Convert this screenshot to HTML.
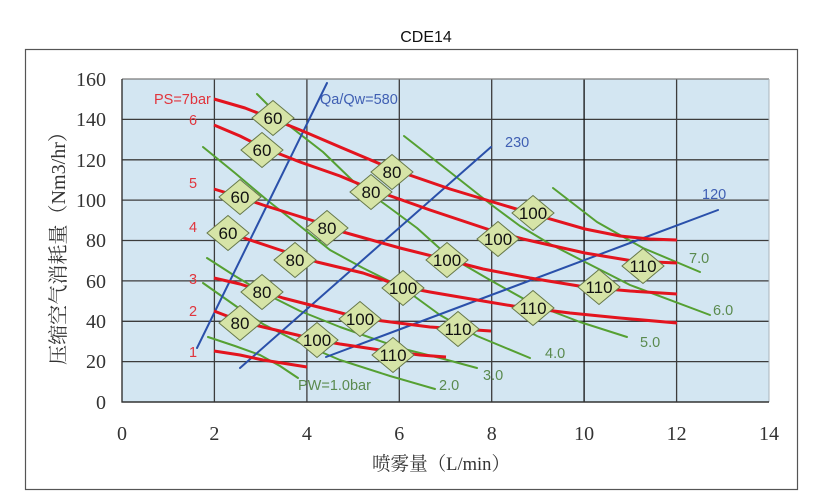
<!DOCTYPE html>
<html>
<head>
<meta charset="utf-8">
<style>
  html,body{margin:0;padding:0;background:#fff;}
  svg{display:block;}
  .tk{font-family:"Liberation Serif","Noto Serif CJK SC",serif;font-size:20px;fill:#333;}
  .dl{font-family:"Liberation Sans",sans-serif;font-size:17px;fill:#111;text-anchor:middle;}
  .rl{font-family:"Liberation Sans",sans-serif;font-size:14.5px;fill:#e0353d;}
  .gl{font-family:"Liberation Sans",sans-serif;font-size:14.5px;fill:#5a8a4e;}
  .bl{font-family:"Liberation Sans",sans-serif;font-size:14.5px;fill:#3f5fb3;}
</style>
</head>
<body>
<svg width="819" height="499" viewBox="0 0 819 499" xmlns="http://www.w3.org/2000/svg">
  <rect x="0" y="0" width="819" height="499" fill="#fff"/>
  <!-- Title -->
  <text x="426" y="42" font-family="Liberation Sans, sans-serif" font-size="16" fill="#111" text-anchor="middle">CDE14</text>
  <!-- Frame -->
  <rect x="25.5" y="49.5" width="772" height="440" fill="#fff" stroke="#555" stroke-width="1.2"/>
  <!-- Plot area -->
  <rect x="122" y="79" width="647" height="323" fill="#d3e6f2"/>
  <!-- Grid horizontal -->
  <g stroke="#3c3c3c" stroke-width="1.3">
    <line x1="122" y1="119.4" x2="769" y2="119.4"/>
    <line x1="122" y1="159.8" x2="769" y2="159.8"/>
    <line x1="122" y1="200.1" x2="769" y2="200.1"/>
    <line x1="122" y1="240.5" x2="769" y2="240.5"/>
    <line x1="122" y1="280.9" x2="769" y2="280.9"/>
    <line x1="122" y1="321.3" x2="769" y2="321.3"/>
    <line x1="122" y1="361.6" x2="769" y2="361.6"/>
    <line x1="214.4" y1="79" x2="214.4" y2="402"/>
    <line x1="306.9" y1="79" x2="306.9" y2="402"/>
    <line x1="399.3" y1="79" x2="399.3" y2="402"/>
    <line x1="491.7" y1="79" x2="491.7" y2="402"/>
    <line x1="584.1" y1="79" x2="584.1" y2="402" stroke="#111"/>
    <line x1="676.6" y1="79" x2="676.6" y2="402"/>
  </g>
  <line x1="122" y1="79" x2="769" y2="79" stroke="#7a7a7a" stroke-width="1.3"/>
  <line x1="769" y1="79" x2="769" y2="402" stroke="#a9b4bc" stroke-width="1"/>
  <line x1="122" y1="79" x2="122" y2="402.5" stroke="#333" stroke-width="1.4"/>
  <line x1="121.5" y1="402" x2="769" y2="402" stroke="#333" stroke-width="1.6"/>

  <!-- Green lines (PW) -->
  <g fill="none" stroke="#55a032" stroke-width="2" stroke-linejoin="round" stroke-linecap="round">
    <polyline points="208,337 235,346 260,355 280,366 298,378"/>
    <polyline points="203,283 240,309 263,324 300,343 340,360 390,376 435,389"/>
    <polyline points="207,258 235,276 262,292 300,311 340,327 400,348 440,358 477,368"/>
    <polyline points="203,147 235,173 267,200 300,226 330,250 363,268 403,288 440,315 477,336 530,358"/>
    <polyline points="257,94 287,124 323,152 353,181 390,208 417,228 447,255 490,280 533,304 580,322 627,337"/>
    <polyline points="404,136 450,172 493,206 520,226 550,244 585,262 630,285 710,315"/>
    <polyline points="553,188 597,222 643,248 700,272"/>
  </g>

  <!-- Blue lines (Qa/Qw) -->
  <g fill="none" stroke="#2a50aa" stroke-width="2" stroke-linecap="round">
    <line x1="197" y1="348" x2="327" y2="83"/>
    <line x1="240" y1="368" x2="491" y2="147"/>
    <line x1="326" y1="357" x2="718" y2="210"/>
  </g>

  <!-- Red lines (PS) -->
  <g fill="none" stroke="#e3141e" stroke-width="3" stroke-linejoin="round" stroke-linecap="butt">
    <polyline points="214,99 245,108 273,119 305,132 340,147 392,169 450,189 493,202 533,214 585,229 620,236 650,239 677,240"/>
    <polyline points="214,125 240,136 262,147 300,162 340,176 371,189 430,210 493,231 523,239 585,253 633,261 677,263"/>
    <polyline points="214,189 240,197 263,205 317,222 343,232 400,248 440,258 483,269 530,278 585,287 630,291 677,294"/>
    <polyline points="214,227 247,239 280,250 317,262 363,273 404,287 430,292 477,300 513,306 570,313 620,318 677,323"/>
    <polyline points="214,278 240,284 262,291 283,298 330,310 360,318 383,321 430,327 491,331"/>
    <polyline points="214,311 240,321 263,327 297,335 317,340 340,344 380,350 420,355 446,357"/>
    <polyline points="214,351 240,355 263,360 307,367"/>
  </g>

  <!-- Diamonds -->
  <g fill="#d6e4a7" stroke="#66784a" stroke-width="1">
    <polygon points="252,118 273,100.5 294,118 273,135.5"/>
    <polygon points="371,172 392,154.5 413,172 392,189.5"/>
    <polygon points="512,213 533,195.5 554,213 533,230.5"/>
    <polygon points="241,150 262,132.5 283,150 262,167.5"/>
    <polygon points="350,192 371,174.5 392,192 371,209.5"/>
    <polygon points="477,239 498,221.5 519,239 498,256.5"/>
    <polygon points="622,266 643,248.5 664,266 643,283.5"/>
    <polygon points="219,197 240,179.5 261,197 240,214.5"/>
    <polygon points="306,228 327,210.5 348,228 327,245.5"/>
    <polygon points="426,260 447,242.5 468,260 447,277.5"/>
    <polygon points="578,287 599,269.5 620,287 599,304.5"/>
    <polygon points="207,233 228,215.5 249,233 228,250.5"/>
    <polygon points="274,260 295,242.5 316,260 295,277.5"/>
    <polygon points="382,288 403,270.5 424,288 403,305.5"/>
    <polygon points="512,308 533,290.5 554,308 533,325.5"/>
    <polygon points="241,292 262,274.5 283,292 262,309.5"/>
    <polygon points="339,319 360,301.5 381,319 360,336.5"/>
    <polygon points="437,329 458,311.5 479,329 458,346.5"/>
    <polygon points="219,323 240,305.5 261,323 240,340.5"/>
    <polygon points="296,340 317,322.5 338,340 317,357.5"/>
    <polygon points="372,355 393,337.5 414,355 393,372.5"/>
  </g>
  <g class="dl">
    <text x="273" y="124">60</text>
    <text x="392" y="178">80</text>
    <text x="533" y="219">100</text>
    <text x="262" y="156">60</text>
    <text x="371" y="198">80</text>
    <text x="498" y="245">100</text>
    <text x="643" y="272">110</text>
    <text x="240" y="203">60</text>
    <text x="327" y="234">80</text>
    <text x="447" y="266">100</text>
    <text x="599" y="293">110</text>
    <text x="228" y="239">60</text>
    <text x="295" y="266">80</text>
    <text x="403" y="294">100</text>
    <text x="533" y="314">110</text>
    <text x="262" y="298">80</text>
    <text x="360" y="325">100</text>
    <text x="458" y="335">110</text>
    <text x="240" y="329">80</text>
    <text x="317" y="346">100</text>
    <text x="393" y="361">110</text>
  </g>

  <!-- Red labels -->
  <text class="rl" x="154" y="104">PS=7bar</text>
  <g class="rl" text-anchor="middle">
    <text x="193" y="125">6</text>
    <text x="193" y="188">5</text>
    <text x="193" y="232">4</text>
    <text x="193" y="284">3</text>
    <text x="193" y="316">2</text>
    <text x="193" y="357">1</text>
  </g>

  <!-- Blue labels -->
  <text class="bl" x="320" y="104">Qa/Qw=580</text>
  <text class="bl" x="505" y="147">230</text>
  <text class="bl" x="702" y="199">120</text>

  <!-- Green labels -->
  <text class="gl" x="298" y="390">PW=1.0bar</text>
  <text class="gl" x="439" y="390">2.0</text>
  <text class="gl" x="483" y="380">3.0</text>
  <text class="gl" x="545" y="358">4.0</text>
  <text class="gl" x="640" y="347">5.0</text>
  <text class="gl" x="713" y="315">6.0</text>
  <text class="gl" x="689" y="263">7.0</text>

  <!-- Y tick labels -->
  <g class="tk" text-anchor="end">
    <text x="106" y="86">160</text>
    <text x="106" y="126">140</text>
    <text x="106" y="167">120</text>
    <text x="106" y="207">100</text>
    <text x="106" y="247">80</text>
    <text x="106" y="288">60</text>
    <text x="106" y="328">40</text>
    <text x="106" y="368">20</text>
    <text x="106" y="409">0</text>
  </g>
  <!-- X tick labels -->
  <g class="tk" text-anchor="middle">
    <text x="122" y="440">0</text>
    <text x="214.4" y="440">2</text>
    <text x="306.9" y="440">4</text>
    <text x="399.3" y="440">6</text>
    <text x="491.7" y="440">8</text>
    <text x="584.1" y="440">10</text>
    <text x="676.6" y="440">12</text>
    <text x="769" y="440">14</text>
  </g>

  <!-- Axis titles -->
  <text x="372" y="470" font-family="Liberation Serif, Noto Serif CJK SC, serif" font-size="19" fill="#333" textLength="138" lengthAdjust="spacingAndGlyphs">喷雾量（L/min）</text>
  <text transform="translate(65,365) rotate(-90)" x="0" y="0" font-family="Liberation Serif, Noto Serif CJK SC, serif" font-size="20" fill="#333" textLength="243" lengthAdjust="spacingAndGlyphs">压缩空气消耗量（Nm3/hr）</text>
</svg>
</body>
</html>
